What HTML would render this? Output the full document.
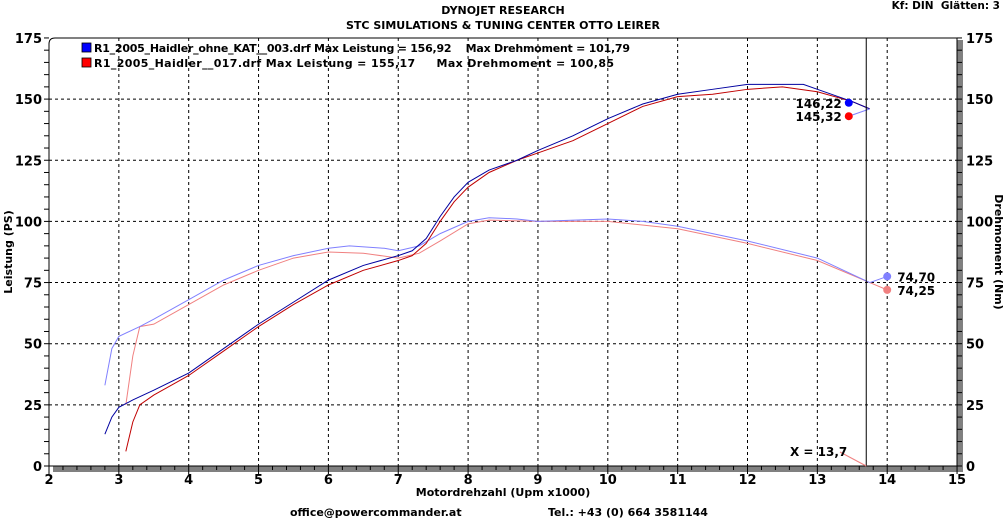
<!DOCTYPE html>
<html><head><meta charset="utf-8"><style>
body{margin:0;background:#fff;}
svg{display:block;font-family:"DejaVu Sans",Verdana,sans-serif;font-weight:bold;}
text{white-space:pre;}
</style></head><body>
<svg id="s" width="1005" height="519" xmlns="http://www.w3.org/2000/svg">
<rect width="1005" height="519" fill="#fff"/>
<text x="503" y="14" font-size="11" text-anchor="middle">DYNOJET RESEARCH</text>
<text x="503" y="29" font-size="11" text-anchor="middle">STC SIMULATIONS &amp; TUNING CENTER OTTO LEIRER</text>
<text x="1000" y="9" font-size="10.5" text-anchor="end">Kf: DIN  Glätten: 3</text>
<rect x="957" y="40" width="6" height="431" fill="#808080"/>
<rect x="53" y="466" width="910" height="6" fill="#808080"/>
<path d="M49,466 V44 Q49,38 55,38 H957 V466 Z" fill="none" stroke="#000" stroke-width="1"/>
<g id="g"></g>
<text x="503" y="496" font-size="11" text-anchor="middle">Motordrehzahl (Upm x1000)</text>
<text x="290" y="516" font-size="11">office@powercommander.at</text>
<text x="548" y="516" font-size="11">Tel.: +43 (0) 664 3581144</text>
<text transform="translate(12,252) rotate(-90)" font-size="11" text-anchor="middle">Leistung (PS)</text>
<text transform="translate(995,252) rotate(90)" font-size="11" text-anchor="middle">Drehmoment (Nm)</text>
<rect x="82" y="43" width="9" height="9" fill="#0000ff" stroke="#000" stroke-width="0.8"/>
<rect x="82" y="58" width="9" height="9" fill="#ff0000" stroke="#000" stroke-width="0.8"/>
<text x="94" y="52" font-size="11" textLength="536">R1_2005_Haidler_ohne_KAT__003.drf Max Leistung = 156,92    Max Drehmoment = 101,79</text>
<text x="94" y="67" font-size="11" textLength="520">R1_2005_Haidler__017.drf Max Leistung = 155,17     Max Drehmoment = 100,85</text>
</svg>
<script>
const g=document.getElementById('g');
const X=r=>49+69.85*(r-2), Y=v=>466-2.446*v;
let h='';
for(let i=3;i<=14;i++)h+=`<line x1="${X(i)}" y1="38" x2="${X(i)}" y2="466" stroke="#000" stroke-dasharray="3,3" stroke-width="1"/>`;
for(let v=25;v<=150;v+=25)h+=`<line x1="49" y1="${Y(v)}" x2="957" y2="${Y(v)}" stroke="#000" stroke-dasharray="3,3" stroke-width="1"/>`;
for(let v=0;v<=175;v+=5){h+=`<line x1="44" y1="${Y(v)}" x2="49" y2="${Y(v)}" stroke="#000"/><line x1="957" y1="${Y(v)}" x2="962" y2="${Y(v)}" stroke="#000"/>`;}
for(let v=0;v<=175;v+=25){h+=`<text x="42" y="${Y(v)+5}" font-size="13" text-anchor="end">${v}</text><text x="966" y="${Y(v)+5}" font-size="13">${v}</text>`;}
for(let r=2;r<=15;r+=0.2){h+=`<line x1="${X(r)}" y1="466" x2="${X(r)}" y2="${Math.abs(r-Math.round(r))<0.01?474:470}" stroke="#000"/>`;}
for(let r=2;r<=15;r++)h+=`<text x="${X(r)}" y="484" font-size="13" text-anchor="middle">${r}</text>`;
function pl(d,c,w){return `<polyline fill="none" stroke="${c}" stroke-width="${w||1}" points="${d.map(p=>X(p[0])+','+Y(p[1])).join(' ')}"/>`;}
const pb=[[2.8,13],[2.9,20],[3,24],[3.2,27],[3.5,31],[4,38],[4.5,48],[5,58],[5.5,67],[6,76],[6.5,82],[7,86],[7.2,88],[7.4,93],[7.6,102],[7.8,110],[8,116],[8.3,121],[8.7,125],[9,129],[9.5,135],[10,142],[10.5,148],[11,152],[11.5,154],[12,156],[12.5,156],[12.8,156],[13,154],[13.5,149],[13.75,146]];
const pr=[[3.1,6],[3.2,18],[3.3,25],[3.5,29],[4,37],[4.5,47],[5,57],[5.5,66],[6,74],[6.5,80],[7,84],[7.2,86],[7.4,91],[7.6,100],[7.8,108],[8,114],[8.3,120],[8.7,125],[9,128],[9.5,133],[10,140],[10.5,147],[11,151],[11.5,152],[12,154],[12.5,155],[13,153],[13.5,149],[13.75,146]];
const tb=[[2.8,33],[2.9,48],[3,53],[3.3,57],[3.5,60],[4,68],[4.5,76],[5,82],[5.5,86],[6,89],[6.3,90],[6.8,89],[7,88],[7.3,90],[7.6,95],[8,100],[8.3,101.5],[8.7,101],[9,100],[10,101],[10.5,100],[11,98],[12,92],[13,85],[13.75,75],[14,77.5]];
const tr=[[3.1,25],[3.2,45],[3.3,57],[3.5,58],[4,66],[4.5,74],[5,80],[5.5,85],[6,87.5],[6.5,87],[7,85],[7.3,87],[7.6,92],[8,99],[8.3,100.5],[9,100],[10,100],[11,97],[12,91],[13,84],[13.75,75],[14,72]];
h+=pl(tr,'#f08080')+pl(tb,'#8080ff')+pl(pr,'#c00000')+pl(pb,'#0000a0');
h+=pl([[13.75,146],[13.45,143]],'#8080ff');
h+=`<line x1="${X(13.7)}" y1="38" x2="${X(13.7)}" y2="466" stroke="#000"/>`;
h+=`<line x1="840" y1="452" x2="${X(13.7)}" y2="466" stroke="#f08080"/>`;
h+=`<text x="790" y="456" font-size="12">X = 13,7</text>`;
h+=`<circle cx="${X(13.45)}" cy="${Y(148.5)}" r="4" fill="#0000ff"/><circle cx="${X(13.45)}" cy="${Y(143)}" r="4" fill="#ff0000"/>`;
h+=`<text x="${X(13.45)-7}" y="${Y(148.5)+5}" font-size="12" text-anchor="end">146,22</text><text x="${X(13.45)-7}" y="${Y(143)+5}" font-size="12" text-anchor="end">145,32</text>`;
h+=`<circle cx="${X(14)}" cy="${Y(77.5)}" r="4" fill="#8080ff"/><circle cx="${X(14)}" cy="${Y(72)}" r="4" fill="#f08080"/>`;
h+=`<text x="${X(14)+10}" y="${Y(77.5)+5}" font-size="12">74,70</text><text x="${X(14)+10}" y="${Y(72)+5}" font-size="12">74,25</text>`;
g.innerHTML=h;
</script>
</body></html>
